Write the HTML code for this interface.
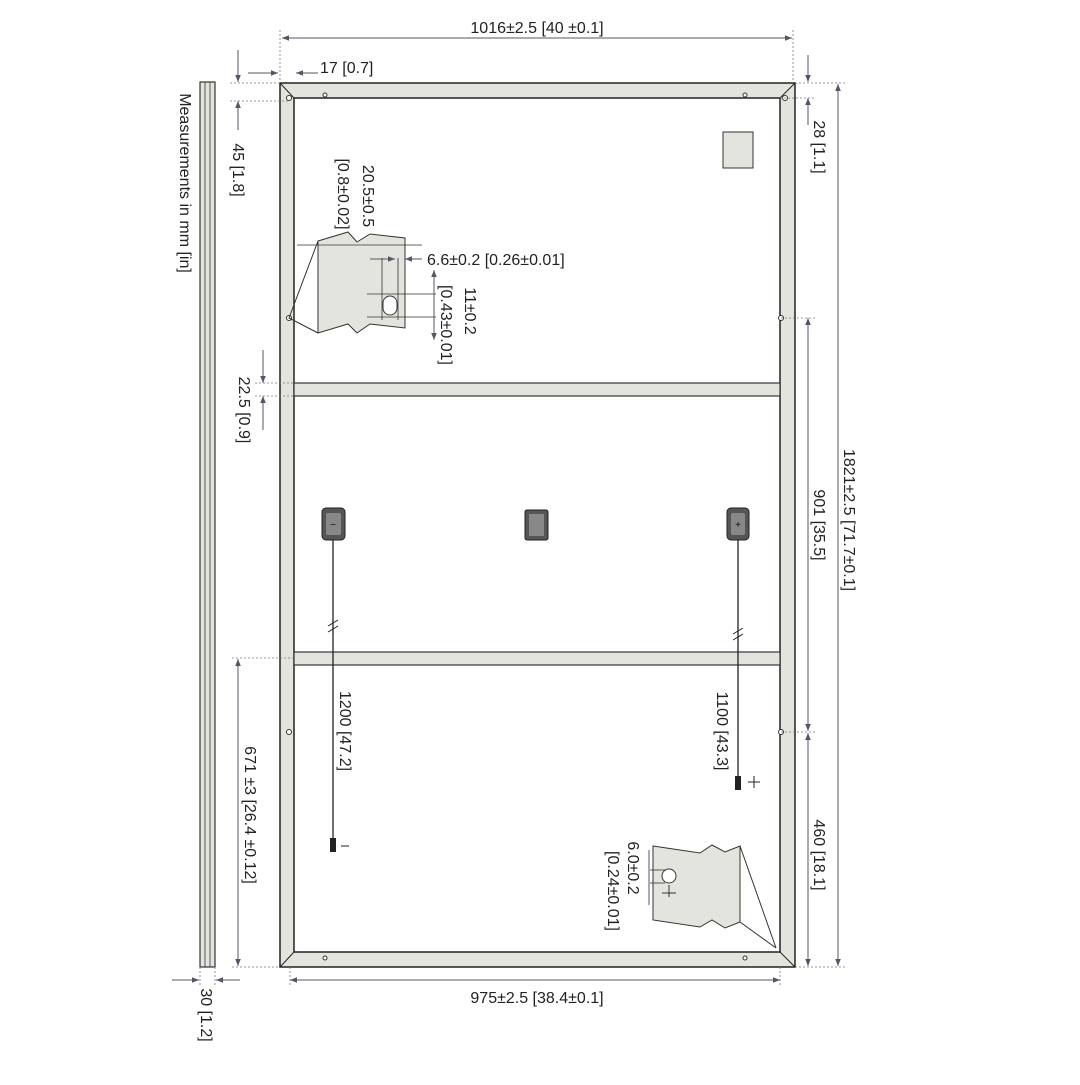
<!DOCTYPE html>
<html><head><style>body{margin:0;background:#fff}</style></head><body>
<svg width="1080" height="1080" viewBox="0 0 1080 1080" xmlns="http://www.w3.org/2000/svg" font-family="Liberation Sans, sans-serif" fill="none">
<defs>
<marker id="a" viewBox="0 0 10 10" refX="10" refY="5" markerWidth="9" markerHeight="7" orient="auto-start-reverse"><path d="M0,1 L10,5 L0,9z" fill="#556"/></marker>
</defs>
<!-- side profile -->
<rect x="200" y="82" width="15" height="885" fill="#e4e4df" stroke="#333" stroke-width="1.2"/>
<line x1="205" y1="82" x2="205" y2="967" stroke="#333" stroke-width="0.8"/>
<line x1="210" y1="82" x2="210" y2="967" stroke="#333" stroke-width="0.8"/>
<!-- frame -->
<path d="M280,83H795V967H280Z M294,98V952H780V98Z" fill="#e4e4df" fill-rule="evenodd" stroke="#222" stroke-width="1.5"/>
<rect x="294" y="383" width="486" height="13" fill="#e4e4df" stroke="#333" stroke-width="1.2"/>
<rect x="294" y="652" width="486" height="13" fill="#e4e4df" stroke="#333" stroke-width="1.2"/>
<line x1="280" y1="83" x2="294" y2="98" stroke="#222"/><line x1="795" y1="83" x2="780" y2="98" stroke="#222"/>
<line x1="280" y1="967" x2="294" y2="952" stroke="#222"/><line x1="795" y1="967" x2="780" y2="952" stroke="#222"/>
<g fill="#fff" stroke="#333"><circle cx="289" cy="98" r="2.5"/><circle cx="785" cy="98" r="2.5"/><circle cx="289" cy="318" r="2.5"/><circle cx="781" cy="318" r="2.5"/><circle cx="289" cy="732" r="2.5"/><circle cx="781" cy="732" r="2.5"/><circle cx="745" cy="95" r="2"/><circle cx="325" cy="95" r="2"/><circle cx="745" cy="958" r="2"/><circle cx="325" cy="958" r="2"/></g>
<rect x="723" y="132" width="30" height="36" fill="#e4e4df" stroke="#333"/>
<!-- upper detail -->
<path d="M318,241 L348,232 L357,242 L370,234 L405,238 L405,328 L370,324 L357,333 L348,324 L318,333Z" fill="#e4e4df" stroke="#333"/>
<path d="M318,241 L289,318 L318,333" stroke="#333"/>
<line x1="297" y1="245" x2="422" y2="245" stroke="#333" stroke-width="0.8"/>
<line x1="370" y1="259" x2="395" y2="259" stroke="#556" marker-end="url(#a)"/><line x1="422" y1="259" x2="405" y2="259" stroke="#556" marker-end="url(#a)"/>
<line x1="382" y1="258" x2="382" y2="320" stroke="#333" stroke-width="0.8"/><line x1="398" y1="258" x2="398" y2="320" stroke="#333" stroke-width="0.8"/>
<line x1="367" y1="294" x2="436" y2="294" stroke="#333" stroke-width="0.8"/><line x1="367" y1="317" x2="436" y2="317" stroke="#333" stroke-width="0.8"/>
<rect x="383" y="296" width="14" height="19" rx="7" fill="#fff" stroke="#333"/>
<line x1="434" y1="270" x2="434" y2="340" stroke="#556" marker-start="url(#a)" marker-end="url(#a)"/>
<!-- lower detail -->
<path d="M653,846 L700,853 L712,845 L725,852 L740,846 L740,922 L725,928 L712,920 L700,927 L653,920Z" fill="#e4e4df" stroke="#333"/>
<path d="M740,846 L776,948 M740,922 L776,948" stroke="#333"/>
<circle cx="669" cy="876" r="7" fill="#fff" stroke="#333"/>
<line x1="650" y1="870" x2="665" y2="870" stroke="#333" stroke-width="0.8"/><line x1="650" y1="883" x2="665" y2="883" stroke="#333" stroke-width="0.8"/>
<line x1="649" y1="850" x2="649" y2="905" stroke="#556"/>
<path d="M669,885V897 M662,893H676" stroke="#333"/>
<!-- junction boxes -->
<rect x="322" y="508" width="23" height="32" rx="4" fill="#555" stroke="#222"/><rect x="326" y="513" width="15" height="22" rx="2" fill="#888"/>
<text x="333" y="528" font-size="10" fill="#111" text-anchor="middle">−</text>
<rect x="525" y="510" width="23" height="30" rx="2" fill="#555" stroke="#222"/><rect x="529" y="514" width="15" height="22" fill="#888"/>
<rect x="727" y="508" width="22" height="32" rx="4" fill="#555" stroke="#222"/><rect x="731" y="513" width="14" height="22" rx="2" fill="#888"/>
<text x="738" y="528" font-size="10" fill="#111" text-anchor="middle">+</text>
<line x1="333" y1="540" x2="333" y2="840" stroke="#222" stroke-width="1.3"/>
<line x1="738" y1="540" x2="738" y2="778" stroke="#222" stroke-width="1.3"/>
<path d="M328,626 L338,620 M328,632 L338,626 M733,634 L743,628 M733,640 L743,634" stroke="#222"/>
<rect x="330" y="838" width="6" height="14" fill="#222"/><line x1="341" y1="846" x2="349" y2="846" stroke="#222"/>
<rect x="735" y="776" width="6" height="14" fill="#222"/><path d="M748,782H760M754,776V788" stroke="#222"/>
<!-- dimension lines -->
<g stroke="#556" stroke-width="1">
<line x1="282" y1="38" x2="792" y2="38" marker-start="url(#a)" marker-end="url(#a)"/>
<line x1="290" y1="980" x2="780" y2="980" marker-start="url(#a)" marker-end="url(#a)"/>
<line x1="838" y1="84" x2="838" y2="966" marker-start="url(#a)" marker-end="url(#a)"/>
<line x1="808" y1="318" x2="808" y2="731" marker-start="url(#a)" marker-end="url(#a)"/>
<line x1="808" y1="733" x2="808" y2="966" marker-start="url(#a)" marker-end="url(#a)"/>
<line x1="808" y1="55" x2="808" y2="82" marker-end="url(#a)"/><line x1="808" y1="125" x2="808" y2="98" marker-end="url(#a)"/>
<line x1="238" y1="50" x2="238" y2="82" marker-end="url(#a)"/><line x1="238" y1="130" x2="238" y2="101" marker-end="url(#a)"/>
<line x1="263" y1="350" x2="263" y2="383" marker-end="url(#a)"/><line x1="263" y1="430" x2="263" y2="396" marker-end="url(#a)"/>
<line x1="238" y1="659" x2="238" y2="966" marker-start="url(#a)" marker-end="url(#a)"/>
<line x1="248" y1="73" x2="278" y2="73" marker-end="url(#a)"/><line x1="318" y1="73" x2="296" y2="73" marker-end="url(#a)"/>
<line x1="172" y1="980" x2="199" y2="980" marker-end="url(#a)"/><line x1="240" y1="980" x2="216" y2="980" marker-end="url(#a)"/>
</g>
<g stroke="#777" stroke-width="0.8" stroke-dasharray="2,2">
<line x1="280" y1="30" x2="280" y2="83"/><line x1="793" y1="30" x2="793" y2="83"/>
<line x1="795" y1="83" x2="845" y2="83"/><line x1="795" y1="967" x2="845" y2="967"/><line x1="780" y1="98" x2="815" y2="98"/>
<line x1="781" y1="318" x2="815" y2="318"/><line x1="781" y1="732" x2="815" y2="732"/>
<line x1="230" y1="83" x2="280" y2="83"/><line x1="230" y1="101" x2="289" y2="101"/>
<line x1="255" y1="383" x2="294" y2="383"/><line x1="255" y1="396" x2="294" y2="396"/>
<line x1="232" y1="658" x2="294" y2="658"/><line x1="232" y1="967" x2="280" y2="967"/>
<line x1="290" y1="967" x2="290" y2="985"/><line x1="780" y1="967" x2="780" y2="985"/>
<line x1="200" y1="967" x2="200" y2="985"/><line x1="215" y1="967" x2="215" y2="985"/>
</g>
<!-- labels -->
<g fill="#222" font-size="16">
<text x="537" y="33" text-anchor="middle">1016±2.5 [40 ±0.1]</text>
<text x="537" y="1003" text-anchor="middle">975±2.5 [38.4±0.1]</text>
<text x="320" y="73">17 [0.7]</text>
<text x="427" y="265">6.6±0.2 [0.26±0.01]</text>
</g>
<g fill="#222" font-size="16" text-anchor="middle">
<text transform="translate(180,183) rotate(90)">Measurements in mm [in]</text>
<text transform="translate(233,170) rotate(90)">45 [1.8]</text>
<text transform="translate(239,410) rotate(90)">22.5 [0.9]</text>
<text transform="translate(245,815) rotate(90)">671 ±3 [26.4 ±0.12]</text>
<text transform="translate(201,1015) rotate(90)">30 [1.2]</text>
<text transform="translate(340,731) rotate(90)">1200 [47.2]</text>
<text transform="translate(717,731) rotate(90)">1100 [43.3]</text>
<text transform="translate(814,147) rotate(90)">28 [1.1]</text>
<text transform="translate(844,520) rotate(90)">1821±2.5 [71.7±0.1]</text>
<text transform="translate(814,525) rotate(90)">901 [35.5]</text>
<text transform="translate(814,855) rotate(90)">460 [18.1]</text>
<text transform="translate(363,196) rotate(90)">20.5±0.5</text>
<text transform="translate(338,194) rotate(90)">[0.8±0.02]</text>
<text transform="translate(465,311) rotate(90)">11±0.2</text>
<text transform="translate(441,325) rotate(90)">[0.43±0.01]</text>
<text transform="translate(628,868) rotate(90)">6.0±0.2</text>
<text transform="translate(608,891) rotate(90)">[0.24±0.01]</text>
</g>
</svg>
</body></html>
